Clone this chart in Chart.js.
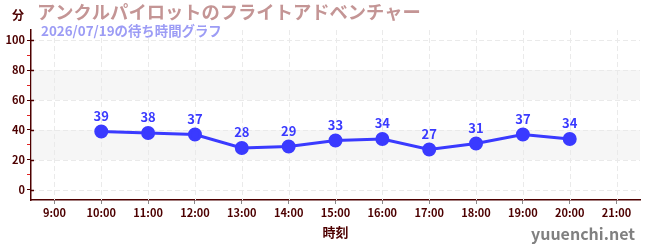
<!DOCTYPE html>
<html lang="ja">
<head>
<meta charset="UTF-8">
<title>待ち時間グラフ</title>
<script src="https://cdn.jsdelivr.net/npm/chart.js"></script>
<style>
  html, body { margin: 0; padding: 0; background: #fff; }
  #wrap { position: relative; width: 650px; height: 250px; }
</style>
</head>
<body>
<div id="wrap"><canvas id="myChart" width="650" height="250"></canvas></div>
<script>
// データ
const hours = ['9:00', '10:00', '11:00', '12:00', '13:00', '14:00', '15:00', '16:00', '17:00', '18:00', '19:00', '20:00', '21:00'];
const waitMinutes = [null, 39, 38, 37, 28, 29, 33, 34, 27, 31, 37, 34, null];
const bands = [[20, 40], [60, 80]];

const titleText = 'アンクルパイロットのフライトアドベンチャー';
const subTitleText = '2026/07/19の待ち時間グラフ';
const fontFamily = '"Noto Sans CJK JP", "Noto Sans", sans-serif';
const dark = '#4d0000';
const blue = '#3a3aff';
const gridGray = '#eaeaea';

const decorPlugin = {
    id: 'decor',
    beforeDatasetsDraw(chart) {
        const { ctx, chartArea, scales } = chart;
        ctx.save();
        ctx.fillStyle = 'rgba(238,238,238,0.5)';
        bands.forEach(b => {
            const y1 = scales.y.getPixelForValue(b[1]);
            const y0 = scales.y.getPixelForValue(b[0]);
            ctx.fillRect(chartArea.left, y1, chartArea.right - chartArea.left, y0 - y1);
        });
        // グリッド（破線）
        ctx.strokeStyle = gridGray;
        ctx.lineWidth = 1;
        ctx.setLineDash([5, 3]);
        hours.forEach((h, i) => {
            const x = Math.round(scales.x.getPixelForValue(i)) + 0.5;
            ctx.beginPath();
            ctx.moveTo(x, chartArea.top);
            ctx.lineTo(x, chartArea.bottom);
            ctx.stroke();
        });
        for (let v = 0; v <= 100; v += 20) {
            const y = Math.round(scales.y.getPixelForValue(v)) + 0.5;
            ctx.beginPath();
            ctx.moveTo(chartArea.left, y);
            ctx.lineTo(chartArea.right, y);
            ctx.stroke();
        }
        ctx.setLineDash([]);
        // 主目盛りは軸をまたぐ
        ctx.strokeStyle = dark;
        ctx.lineWidth = 1.5;
        for (let v = 0; v <= 100; v += 20) {
            const y = Math.round(scales.y.getPixelForValue(v)) + 0.5;
            ctx.beginPath();
            ctx.moveTo(chartArea.left, y);
            ctx.lineTo(chartArea.left + 3, y);
            ctx.stroke();
        }
        ctx.restore();
    },
    afterDatasetsDraw(chart) {
        const { ctx } = chart;
        const meta = chart.getDatasetMeta(0);
        ctx.save();
        ctx.fillStyle = blue;
        ctx.font = 'bold 13px ' + fontFamily;
        ctx.textAlign = 'center';
        ctx.textBaseline = 'bottom';
        meta.data.forEach((pt, i) => {
            const v = waitMinutes[i];
            if (v === null) return;
            ctx.fillText(String(v), pt.x, pt.y - 9);
        });
        ctx.restore();
    },
    afterDraw(chart) {
        const { ctx } = chart;
        ctx.save();
        ctx.textBaseline = 'middle';
        ctx.textAlign = 'left';
        ctx.fillStyle = dark;
        ctx.font = 'bold 12px ' + fontFamily;
        ctx.fillText('分', 12, 15);
        ctx.fillStyle = '#c49595';
        ctx.font = 'bold 18.3px ' + fontFamily;
        ctx.fillText(titleText, 37, 12);
        ctx.fillStyle = '#9c9cf5';
        ctx.font = 'bold 13.4px ' + fontFamily;
        ctx.fillText(subTitleText, 41, 31);
        ctx.fillStyle = dark;
        ctx.textAlign = 'center';
        ctx.font = 'bold 13px ' + fontFamily;
        ctx.fillText('時刻', (chart.chartArea.left + chart.chartArea.right) / 2, 232);
        ctx.fillStyle = '#808080';
        ctx.textAlign = 'right';
        ctx.font = 'bold 16px ' + fontFamily;
        ctx.fillText('yuuenchi.net', 635, 234);
        ctx.restore();
    }
};

const ctx = document.getElementById('myChart').getContext('2d');
const myChart = new Chart(ctx, {
    type: 'line',
    data: {
        labels: hours,
        datasets: [{
            data: waitMinutes,
            borderColor: blue,
            backgroundColor: blue,
            borderWidth: 3,
            pointRadius: 5.5,
            pointHoverRadius: 5.5,
            tension: 0,
            spanGaps: false
        }]
    },
    options: {
        responsive: false,
        animation: false,
        layout: { padding: { top: 30, right: 10, left: 0, bottom: 0 } },
        plugins: {
            legend: { display: false },
            tooltip: { enabled: false }
        },
        scales: {
            x: {
                offset: true,
                afterFit: s => { s.height = 50; },
                border: { color: dark, width: 1.5 },
                grid: {
                    offset: false,
                    drawOnChartArea: false,
                    tickColor: '#888888',
                    tickLength: 4
                },
                ticks: {
                    color: dark,
                    font: { family: fontFamily, size: 11, weight: 'bold' },
                    maxRotation: 0,
                    autoSkip: false,
                    padding: 2
                }
            },
            y: {
                min: -6.7,
                max: 106.7,
                afterFit: s => { s.width = 31; },
                afterBuildTicks: s => {
                    const t = [];
                    for (let v = 0; v <= 100; v += 10) t.push({ value: v });
                    s.ticks = t;
                },
                border: { color: dark, width: 1.5 },
                grid: {
                    drawOnChartArea: false,
                    tickColor: c => (c.tick && c.tick.value % 20 === 0) ? dark : '#e02020',
                    tickLength: 4
                },
                ticks: {
                    color: dark,
                    font: { family: fontFamily, size: 11, weight: 'bold' },
                    padding: 2,
                    callback: v => (v % 20 === 0 ? v : '')
                }
            }
        }
    },
    plugins: [decorPlugin]
});
</script>
</body>
</html>
